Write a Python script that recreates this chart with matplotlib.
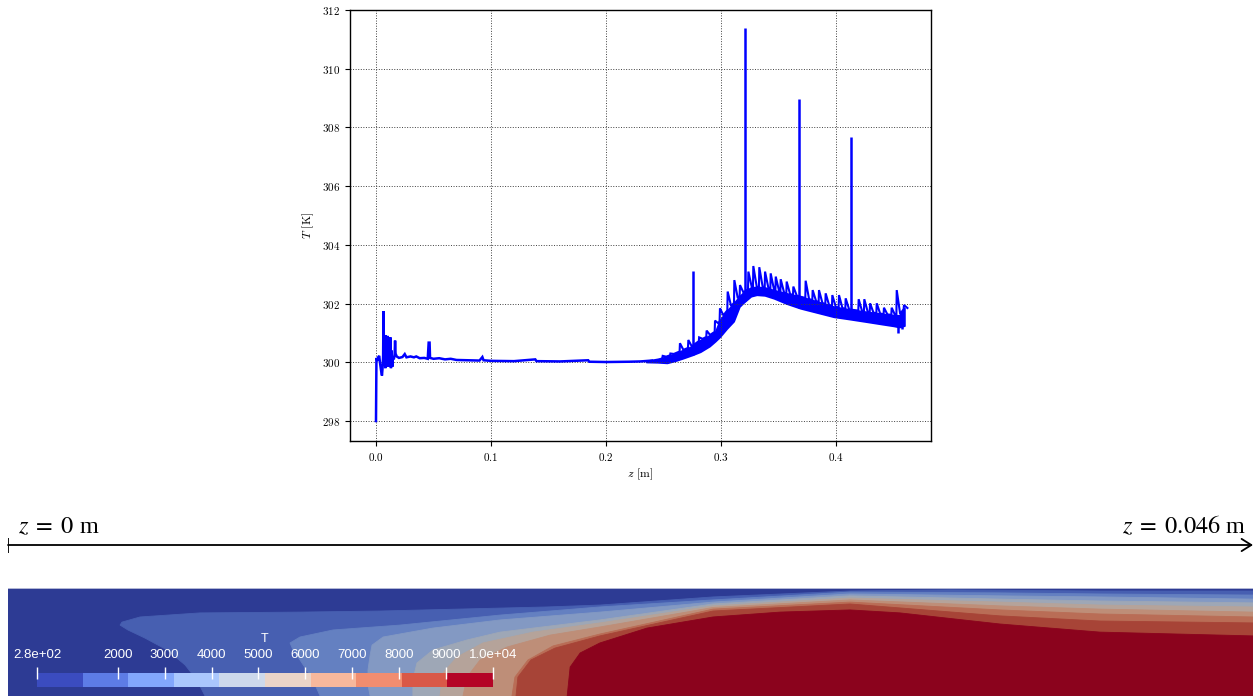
import numpy as np
import matplotlib
matplotlib.use("Agg")
import matplotlib.pyplot as plt
from matplotlib.colors import ListedColormap, Normalize
from matplotlib.cm import ScalarMappable

plt.rcParams['font.family'] = 'serif'
plt.rcParams['font.serif'] = ['cmr10']
plt.rcParams['mathtext.fontset'] = 'cm'
plt.rcParams['axes.formatter.use_mathtext'] = True

# --- axial temperature profile T(z) ---
z_line = [0.0000, 0.0004, 0.0012, 0.0020, 0.0028, 0.0036, 0.0045, 0.0052, 0.0058,
          0.0062, 0.0065, 0.0069, 0.0073, 0.0077, 0.0081, 0.0085, 0.0089, 0.0093,
          0.0097, 0.0101, 0.0105, 0.0109, 0.0113, 0.0117, 0.0121, 0.0125, 0.0130,
          0.0136, 0.0142, 0.0148, 0.0155, 0.0162, 0.0166, 0.0170, 0.0180, 0.0200,
          0.0230, 0.0250, 0.0265, 0.0300, 0.0330, 0.0350, 0.0380, 0.0420, 0.0450,
          0.0458, 0.0466, 0.0470, 0.0500, 0.0550, 0.0600, 0.0650, 0.0700, 0.0800,
          0.0900, 0.0925, 0.0935, 0.1000, 0.1200, 0.1385, 0.1395, 0.1600, 0.1845,
          0.1855, 0.2000, 0.2200, 0.2300, 0.2400]
T_line = [298.00, 300.15, 300.05, 300.18, 300.22, 299.95, 299.70, 299.55, 299.85,
          300.20, 301.74, 300.60, 299.90, 300.90, 299.80, 300.92, 299.95, 300.88,
          300.05, 300.90, 299.85, 300.85, 300.10, 300.80, 299.90, 300.85, 299.80,
          300.40, 299.85, 300.20, 300.10, 300.25, 300.74, 300.30, 300.20, 300.15,
          300.18, 300.28, 300.17, 300.20, 300.17, 300.20, 300.14, 300.15, 300.12,
          300.67, 300.67, 300.15, 300.12, 300.14, 300.10, 300.12, 300.08, 300.07,
          300.06, 300.18, 300.07, 300.05, 300.04, 300.10, 300.04, 300.03, 300.07,
          300.02, 300.01, 300.02, 300.03, 300.06]

# fluctuating region: lower / upper edge of the oscillation band
band_z = [0.235, 0.245, 0.253, 0.260, 0.267, 0.275, 0.282, 0.290, 0.295, 0.299,
          0.305, 0.311, 0.316, 0.320, 0.326, 0.331, 0.338, 0.346, 0.357, 0.369,
          0.383, 0.398, 0.412, 0.427, 0.440, 0.450, 0.455, 0.4595]
band_lo = [300.01, 300.00, 299.98, 300.05, 300.14, 300.25, 300.36, 300.55, 300.72,
           300.87, 301.15, 301.40, 301.90, 302.05, 302.25, 302.30, 302.28, 302.18,
           302.00, 301.84, 301.70, 301.55, 301.47, 301.38, 301.30, 301.24, 301.20,
           301.25]
band_hi = [300.05, 300.12, 300.20, 300.30, 300.42, 300.55, 300.76, 300.92, 301.05,
           301.44, 301.75, 302.01, 302.25, 302.40, 302.55, 302.57, 302.55, 302.46,
           302.35, 302.24, 302.08, 301.90, 301.80, 301.72, 301.65, 301.61, 301.60,
           301.85]

# periodic peaks on top of the band
peak_z = [0.2493, 0.2560, 0.2643, 0.2716, 0.2810, 0.2875, 0.2948, 0.2991, 0.3058,
          0.3116, 0.3165, 0.3238, 0.3281, 0.3333, 0.3383, 0.3432, 0.3476, 0.3519,
          0.3571, 0.3629, 0.3736, 0.3797, 0.3852, 0.3910, 0.3968, 0.4026, 0.4084,
          0.4197, 0.4246, 0.4296, 0.4354, 0.4417, 0.4484, 0.4528, 0.4591]
peak_T = [300.22, 300.30, 300.65, 300.76, 300.85, 301.08, 301.42, 301.84, 302.41,
          302.80, 302.63, 303.09, 303.28, 303.24, 303.09, 303.03, 302.92, 302.83,
          302.75, 302.58, 302.78, 302.46, 302.46, 302.35, 302.29, 302.29, 302.18,
          302.15, 302.15, 302.01, 302.01, 301.86, 301.86, 302.46, 301.95]

# isolated spikes
spike_z = [0.2757, 0.3213, 0.3675, 0.4133]
spike_T = [303.11, 311.38, 308.97, 307.66]

# dips near the outlet
dip_z = [0.4535, 0.4578]
dip_T = [301.01, 301.15]

# --- 2D temperature field, contour boundaries (z, r in mm) ---
field_len = 46.0
field_h = 3.99
levels = [280, 2000, 3000, 4000, 5000, 6000, 7000, 8000, 9000, 10000]
level_labels = ['2.8e+02', '2000', '3000', '4000', '5000', '6000', '7000',
                '8000', '9000', '1.0e+04']

b1_z = [46.0, 40.35, 34.81, 31.11, 26.05, 21.87, 19.92, 13.75, 10.79, 7.09, 4.88,
        4.21, 4.14, 4.43, 5.06, 5.88, 6.54, 6.98, 7.28]
b1_r = [3.88, 3.88, 3.92, 3.88, 3.66, 3.36, 3.29, 3.14, 3.10, 3.07, 2.92, 2.73,
        2.62, 2.44, 2.14, 1.70, 1.15, 0.59, 0.0]
b2_z = [46.0, 40.35, 36.65, 31.11, 26.05, 21.87, 18.18, 14.48, 12.01, 10.79, 10.42,
        10.53, 10.79, 11.27, 11.53]
b2_r = [3.73, 3.77, 3.81, 3.84, 3.55, 3.29, 2.99, 2.62, 2.44, 2.18, 1.96, 1.70,
        1.33, 0.59, 0.0]
b3_z = [46.0, 40.35, 36.65, 31.11, 26.05, 21.87, 18.18, 15.70, 13.86, 13.45, 13.38,
        13.30, 13.30, 13.38]
b3_r = [3.58, 3.66, 3.70, 3.77, 3.47, 3.10, 2.81, 2.51, 2.18, 1.88, 1.51, 0.96,
        0.41, 0.0]
b4_z = [46.0, 40.35, 36.65, 31.11, 26.05, 21.87, 18.18, 16.96, 15.70, 15.11, 14.96,
        14.96]
b4_r = [3.44, 3.51, 3.58, 3.70, 3.40, 2.81, 2.36, 2.07, 1.70, 1.22, 0.59, 0.0]
b5_z = [46.0, 40.35, 36.65, 31.11, 26.05, 21.87, 19.40, 17.55, 16.59, 16.07, 15.96]
b5_r = [3.29, 3.36, 3.47, 3.62, 3.33, 2.70, 2.36, 1.96, 1.44, 0.85, 0.0]
b6_z = [46.0, 40.35, 36.65, 31.11, 26.05, 21.87, 20.03, 18.44, 17.44, 16.96, 16.81]
b6_r = [3.10, 3.21, 3.33, 3.55, 3.27, 2.55, 2.25, 1.81, 1.33, 0.70, 0.0]
b7_z = [46.0, 40.35, 36.65, 31.11, 26.05, 21.87, 20.14, 19.21, 18.73, 18.62]
b7_r = [2.92, 3.03, 3.18, 3.47, 3.21, 2.29, 1.85, 1.33, 0.70, 0.0]
b8_z = [46.0, 40.35, 36.65, 31.11, 26.05, 21.87, 20.21, 19.32, 18.84, 18.77]
b8_r = [2.70, 2.77, 2.96, 3.40, 3.14, 2.22, 1.77, 1.33, 0.70, 0.0]
b9_z = [46.0, 40.35, 36.65, 32.96, 31.11, 28.53, 26.05, 23.61, 21.87, 21.14, 20.77,
        20.66]
b9_r = [2.22, 2.36, 2.66, 3.07, 3.18, 3.10, 2.92, 2.51, 1.96, 1.59, 1.07, 0.0]
boundaries = [(b1_z, b1_r), (b2_z, b2_r), (b3_z, b3_r), (b4_z, b4_r), (b5_z, b5_r),
              (b6_z, b6_r), (b7_z, b7_r), (b8_z, b8_r), (b9_z, b9_r)]

W, H = 1258, 696
fig = plt.figure(figsize=(W / 100, H / 100), dpi=100)

# ---------------- line plot ----------------
ax = fig.add_axes([350 / W, 1 - 441 / H, 581 / W, 431 / H])
blue = '#0000ff'
ax.plot(z_line, T_line, color=blue, lw=1.8, solid_joinstyle='miter')
ax.fill_between(band_z, band_lo, band_hi, color=blue, lw=1.2, edgecolor=blue)

# saw-tooth peaks: sharp rise, slower decay back onto the band
saw_z, saw_T = [], []
for zp, tp in zip(peak_z, peak_T):
    saw_z += [zp - 0.0003, zp, zp + 0.0030]
    saw_T += list(np.interp([zp - 0.0003, zp, zp + 0.0030], band_z, band_hi))
    saw_T[-2] = tp
ax.plot(saw_z, saw_T, color=blue, lw=1.5, solid_joinstyle='miter')

ax.vlines(spike_z, np.interp(spike_z, band_z, band_lo, left=300.1), spike_T,
          color=blue, lw=1.8)
ax.vlines(dip_z, dip_T, np.interp(dip_z, band_z, band_hi), color=blue, lw=1.8)

ax.set_xlim(-0.0226, 0.4826)
ax.set_ylim(297.32, 312)
ax.set_xticks([0.0, 0.1, 0.2, 0.3, 0.4])
ax.set_yticks(np.arange(298, 313, 2))
ax.grid(True, color='0.25', linestyle=':', linewidth=0.7)
ax.tick_params(labelsize=8, length=3.5, width=0.8, direction='out')
for s in ax.spines.values():
    s.set_linewidth(1.0)
ax.set_xlabel(r'$z$ [m]', fontsize=8.5, labelpad=3)
ax.set_ylabel(r'$T$ [K]', fontsize=8.5, labelpad=4)

# ---------------- axial extent arrow ----------------
ax_arr = fig.add_axes([8 / W, 1 - 560 / H, 1245 / W, 40 / H])
ax_arr.set_xlim(0, 0.046)
ax_arr.set_ylim(0, 1)
ax_arr.axis('off')
ax_arr.annotate('', xy=(0.046, 0.375), xytext=(0.0, 0.375),
                arrowprops=dict(arrowstyle='->,head_length=0.35,head_width=0.22',
                                lw=1.3, color='black', shrinkA=0, shrinkB=0,
                                mutation_scale=20))
ax_arr.plot([0.0, 0.0], [0.175, 0.55], color='black', lw=1.3,
            solid_capstyle='butt')
lab_kw = dict(fontsize=17.5, family='Liberation Serif', math_fontfamily='stix',
              va='baseline')
ax_arr.text(0.00037, 0.675, r'$z\;=\;0$ m', ha='left', **lab_kw)
ax_arr.text(0.04574, 0.675, r'$z\;=\;0.046$ m', ha='right', **lab_kw)

# ---------------- temperature field ----------------
base = plt.cm.coolwarm(np.linspace(0.0, 1.0, len(levels)))
shade = base.copy()
shade[:, :3] *= 0.77

axf = fig.add_axes([8 / W, 0, 1245 / W, 108 / H])
axf.set_xlim(0, field_len)
axf.set_ylim(0, field_h)
axf.axis('off')
axf.add_patch(plt.Rectangle((0, 0), field_len, field_h, color=shade[0], lw=0))
for k, (bz, br) in enumerate(boundaries, start=1):
    axf.fill(list(bz) + [field_len], list(br) + [0.0], color=shade[k], lw=0.6,
             edgecolor=shade[k])
axf.axhline(field_h, color='#cdd1e3', lw=1.2)

# colour legend drawn over the field
cax = fig.add_axes([37 / W, 1 - 687 / H, 456 / W, 14 / H])
sm = ScalarMappable(norm=Normalize(levels[0], levels[-1]), cmap=ListedColormap(base))
cb = fig.colorbar(sm, cax=cax, orientation='horizontal', ticks=levels)
cb.outline.set_visible(False)
cax.xaxis.set_ticks_position('top')
cax.set_xticklabels(level_labels)
cax.tick_params(axis='x', colors='white', labelcolor='white', length=9, width=1,
                direction='inout', pad=4, labelsize=9.5)
for t in cax.get_xticklabels():
    t.set_family('Liberation Sans')
cax.set_title('T', color='white', fontsize=9, family='Liberation Sans', pad=22)

fig.savefig('out.png', dpi=100)
